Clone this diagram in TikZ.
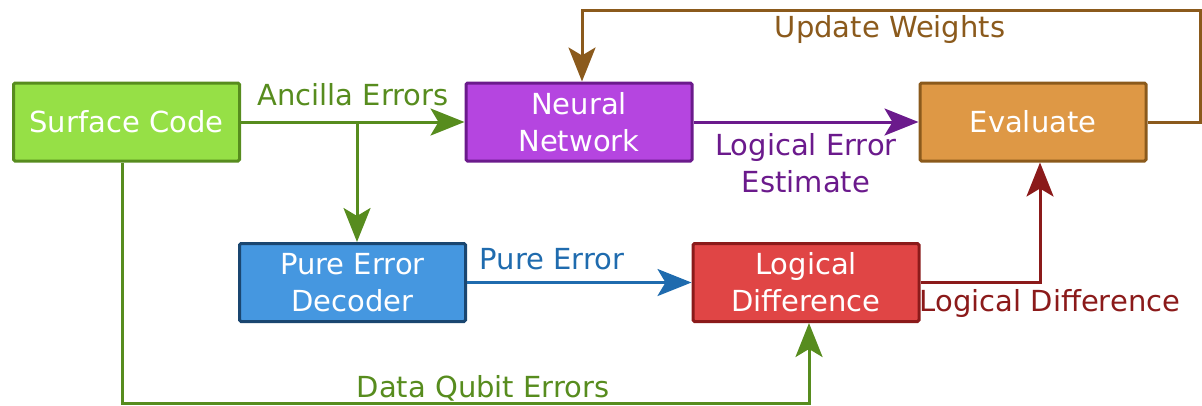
\documentclass[tikz,border=0pt]{standalone}
\usepackage{fontspec}
\setmainfont{DejaVu Sans}
\usetikzlibrary{arrows.meta}

\definecolor{gfill}{HTML}{96E046}
\definecolor{gline}{HTML}{578C1E}
\definecolor{pfill}{HTML}{B545E0}
\definecolor{pline}{HTML}{6B1A8C}
\definecolor{ofill}{HTML}{DE9845}
\definecolor{oline}{HTML}{8B5A1C}
\definecolor{bfill}{HTML}{4597E0}
\definecolor{bline}{HTML}{1F6BAE}
\definecolor{bborder}{HTML}{1A4670}
\definecolor{rfill}{HTML}{E04545}
\definecolor{rline}{HTML}{8B1A1A}

\tikzset{
  box/.style={draw, line width=3pt, rounded corners=1.5pt, minimum width=226pt,
    minimum height=78pt, inner sep=0pt, align=center, text=white,
    font=\fontsize{29}{37}\selectfont},
  lbl/.style={inner sep=0pt, align=center, font=\fontsize{29}{37}\selectfont},
  flow/.style={line width=3pt,
    -{Stealth[length=34pt, width=27pt, inset=8pt]}},
}

\begin{document}
\begin{tikzpicture}[x=1pt, y=-1pt]
  \useasboundingbox (0,0) rectangle (1202,405);

  % blocks
  \node[box, fill=gfill, draw=gline] (sc) at (126.5,122) {Surface Code};
  \node[box, fill=pfill, draw=pline] (nn) at (579,122) {Neural\\Network};
  \node[box, fill=ofill, draw=oline] (ev) at (1033,122) {Evaluate};
  \node[box, fill=bfill, draw=bborder] (pe) at (352.5,282.5) {Pure Error\\Decoder};
  \node[box, fill=rfill, draw=rline] (ld) at (806,282.5) {Logical\\Difference};

  % routing points
  \coordinate (br) at (357,122);
  \coordinate (dq) at (0,403);
  \coordinate (rt) at (1200,10);

  % syndrome data from the surface code
  \draw[flow, gline] (sc.east) -- (nn.west);
  \draw[flow, gline] (br) -- (br |- pe.north);
  \draw[flow, gline] ([xshift=-4pt]sc.south) -- ([xshift=-4pt]sc.south |- dq)
    -- ([xshift=3pt]ld.south |- dq) -- ([xshift=3pt]ld.south);

  % network output and feedback loop
  \draw[flow, pline] (nn.east) -- (ev.west);
  \draw[flow, oline] (ev.east) -- (ev.east -| rt) -- (rt)
    -- ([xshift=3pt]nn.north |- rt) -- ([xshift=3pt]nn.north);

  % decoder path
  \draw[flow, bline] (pe.east) -- (pe.east -| ld.west);
  \draw[flow, rline] (ld.east) -- (ld.east -| 1040,0) -- (1040,0 |- ev.south);

  % labels
  \node[lbl, text=gline, anchor=base] (la) at (353,105) {Ancilla Errors};
  \node[lbl, text=gline, anchor=base] (ldq) at (483,397) {Data Qubit Errors};
  \node[lbl, text=pline] (le) at (806,163.5) {Logical Error\\Estimate};
  \node[lbl, text=oline, anchor=base] (lu) at (890,37) {Update Weights};
  \node[lbl, text=bline, anchor=base] (lp) at (552,269) {Pure Error};
  \node[lbl, text=rline, anchor=base] (lr) at (1050,311) {Logical Difference};
\end{tikzpicture}
\end{document}
